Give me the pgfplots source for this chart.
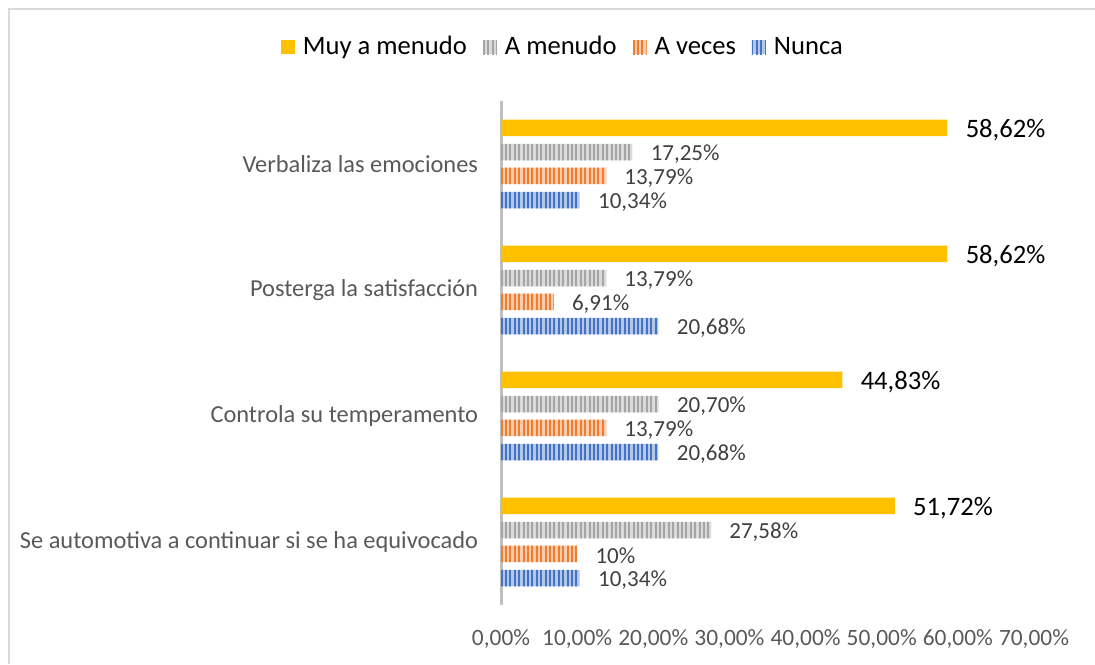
\documentclass[border=0pt]{standalone}
\usepackage{pgfplots}
\pgfplotsset{compat=1.18}
\usepackage{fontspec}
\setmainfont{Carlito}
\usetikzlibrary{patterns.meta}
\definecolor{cyel}{HTML}{FFC000}
\definecolor{cgrayS}{HTML}{A5A5A5}
\definecolor{cgrayF}{HTML}{DADADA}
\definecolor{corS}{HTML}{ED7D31}
\definecolor{corF}{HTML}{F8CBAD}
\definecolor{cblS}{HTML}{4472C4}
\definecolor{cblF}{HTML}{B4C7E7}
\definecolor{txt}{HTML}{595959}
\definecolor{lab}{HTML}{404040}
\definecolor{frame}{HTML}{D9D9D9}
\definecolor{axl}{HTML}{BFBFBF}
\begin{document}
\begin{tikzpicture}
\useasboundingbox (0,0) rectangle (547.5pt,332pt);
\draw[frame, line width=1pt] (4.5pt,0pt) -- (4.5pt,327.5pt) -- (547.5pt,327.5pt);
\begin{axis}[
  at={(250.5pt,29.5pt)}, anchor=south west,
  scale only axis, width=266.5pt, height=252pt,
  xbar, clip=false,
  xmin=0, xmax=70, ymin=-0.5, ymax=3.5,
  axis lines*=left,
  x axis line style={draw=none},
  y axis line style={draw=axl, line width=1.5pt, -},
  xtick={0,10,20,30,40,50,60,70},
  xticklabels={{0,00\%},{10,00\%},{20,00\%},{30,00\%},{40,00\%},{50,00\%},{60,00\%},{70,00\%}},
  ytick={0,1,2,3},
  yticklabels={Se automotiva a continuar si se ha equivocado, Controla su temperamento, Posterga la satisfacción, Verbaliza las emociones},
  major tick style={draw=none},
  /pgf/number format/assume math mode=true,
  xticklabel style={inner sep=0pt, yshift=-12pt, font=\fontsize{11.7}{14}\selectfont, text=txt},
  yticklabel style={inner sep=0pt, xshift=-7pt, font=\fontsize{12.2}{14}\selectfont, text=txt},
  bar width=0.131,
  point meta=explicit symbolic,
  nodes near coords,
  every node near coord/.append style={anchor=west, inner sep=0pt, xshift=9pt, yshift=-1pt, font=\fontsize{11.5}{14}\selectfont, text=lab},
  legend image code/.code={\path[#1] (0pt,-3.5pt) rectangle (7pt,3.5pt); \path (9pt,0pt);},
  legend style={at={(0.118,1.107)}, anchor=center, draw=none, fill=none, legend columns=-1,
    font=\fontsize{13.3}{16}\selectfont,
    /tikz/every even column/.append style={column sep=6pt}},
]
\addplot[draw=none, fill=cyel, bar shift=0.286,
  every node near coord/.append style={font=\fontsize{13.3}{16}\selectfont, text=black, yshift=0pt}]
  coordinates {(51.72,0) [51,72\%] (44.83,1) [44,83\%] (58.62,2) [58,62\%] (58.62,3) [58,62\%]};
\addlegendentry{Muy a menudo}
\addplot[draw=none, fill=cgrayF, bar shift=0.095,
  postaction={pattern={Lines[angle=90,distance=2.2pt,line width=1pt]}, pattern color=cgrayS}]
  coordinates {(27.58,0) [27,58\%] (20.70,1) [20,70\%] (13.79,2) [13,79\%] (17.25,3) [17,25\%]};
\addlegendentry{A menudo}
\addplot[draw=none, fill=corF, bar shift=-0.095,
  postaction={pattern={Lines[angle=90,distance=2.2pt,line width=1pt]}, pattern color=corS}]
  coordinates {(10,0) [10\%] (13.79,1) [13,79\%] (6.91,2) [6,91\%] (13.79,3) [13,79\%]};
\addlegendentry{A veces}
\addplot[draw=none, fill=cblF, bar shift=-0.286,
  postaction={pattern={Lines[angle=90,distance=2.2pt,line width=1pt]}, pattern color=cblS}]
  coordinates {(10.34,0) [10,34\%] (20.68,1) [20,68\%] (20.68,2) [20,68\%] (10.34,3) [10,34\%]};
\addlegendentry{Nunca}
\end{axis}
\end{tikzpicture}
\end{document}
